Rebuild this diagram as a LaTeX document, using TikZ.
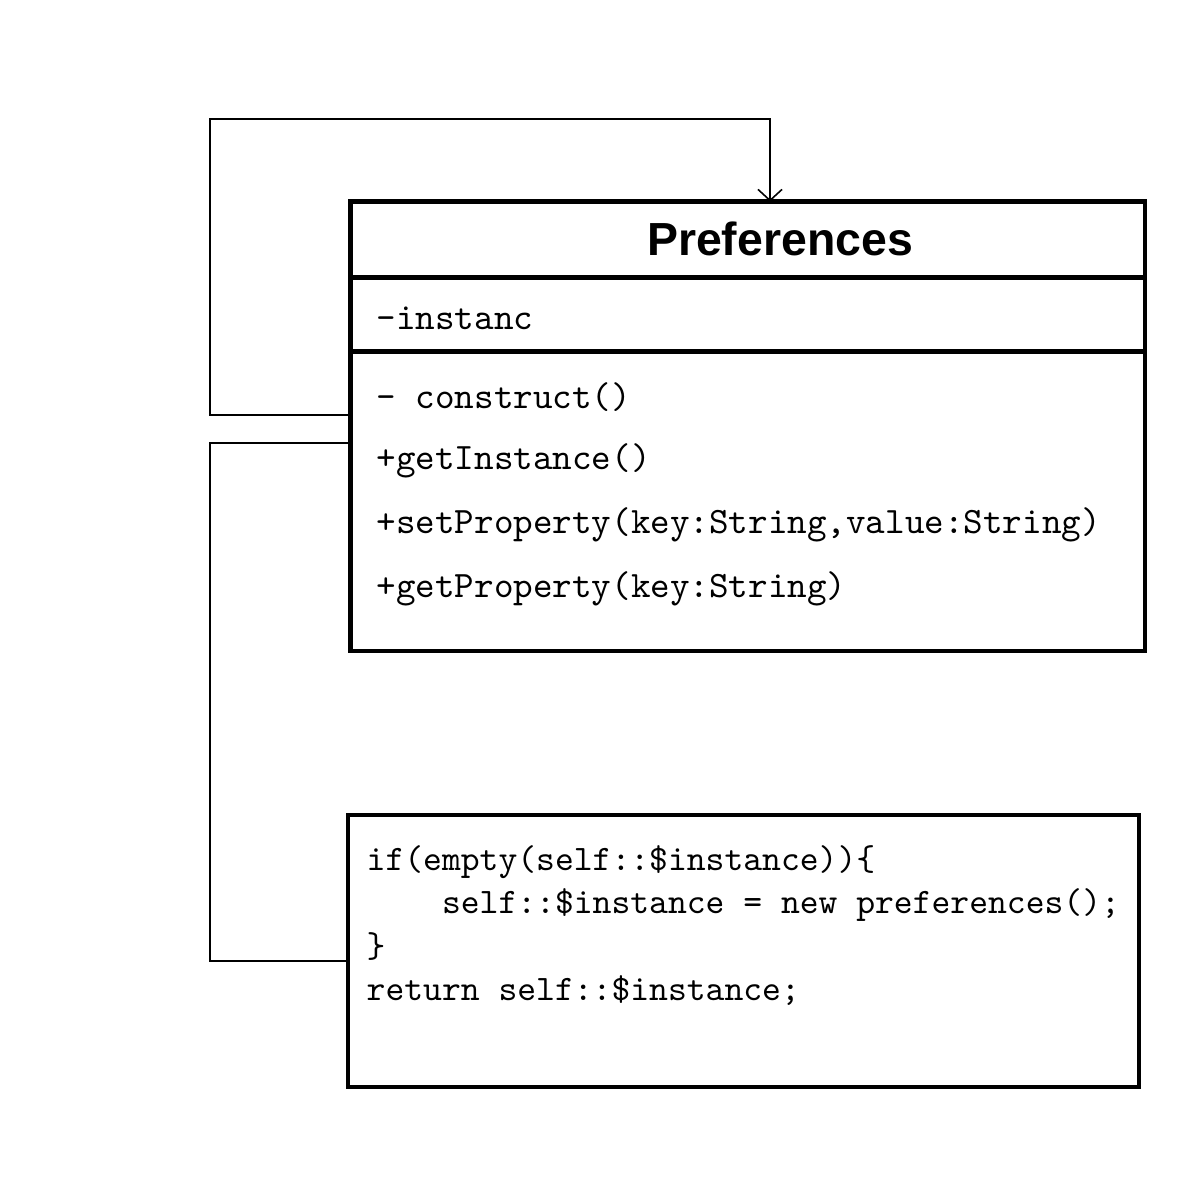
\documentclass[tikz,border=0pt]{standalone}
\usepackage{fontspec}
\setsansfont{Liberation Sans}
\usetikzlibrary{arrows.meta}
\begin{document}
\begin{tikzpicture}[x=0.01cm,y=-0.01cm,
  box/.style={draw,line width=1.15pt,rectangle,inner sep=0,outer sep=0},
  conn/.style={draw,line width=0.45pt},
  txt/.style={anchor=west,inner sep=0,font=\ttfamily\fontsize{10.6}{12}\selectfont},
  ttl/.style={inner sep=0,font=\sffamily\bfseries\fontsize{13.2}{15}\selectfont}]
\useasboundingbox (0,0) rectangle (1200,1200);
% class box
\node[box,minimum width=7.94cm,minimum height=4.49cm,anchor=north west] (cls) at (350.5,201.5) {};
\coordinate (d1) at (0,277.5);
\coordinate (d2) at (0,351.5);
\draw[line width=1.15pt] (cls.west |- d1) -- (cls.east |- d1);
\draw[line width=1.15pt] (cls.west |- d2) -- (cls.east |- d2);
\node[ttl] (title) at (780,239) {Preferences};
\node[txt] (attr) at (376,318) {-instanc};
\node[txt] (m1) at (376,397) {- construct()};
\node[txt] (m2) at (376,461) {+getInstance()};
\node[txt] (m3) at (376,525) {+setProperty(key:String,value:String)};
\node[txt] (m4) at (376,589) {+getProperty(key:String)};
% code box
\node[box,minimum width=7.91cm,minimum height=2.72cm,anchor=north west] (code) at (348,815) {};
\node[txt,anchor=north west,align=left,font=\ttfamily\fontsize{10.2}{12.3}\selectfont] (codetxt) at (366,845)
 {if(empty(self::\$instance))\{\\
 \phantom{xxxx}self::\$instance = new preferences();\\
 \}\\
 return self::\$instance;};
% connectors
\coordinate (y1) at (0,415);
\coordinate (x1) at (210,0);
\coordinate (yt) at (0,119);
\coordinate (xa) at (770,0);
\draw[conn,-{Straight Barb[length=1.1mm,width=2.4mm]}] (cls.west |- y1) -- (x1 |- y1) -- (x1 |- yt) -- (xa |- yt) -- (xa |- cls.north);
\coordinate (y2) at (0,443);
\coordinate (y3) at (0,961);
\draw[conn] (cls.west |- y2) -- (x1 |- y2) -- (x1 |- y3) -- (code.west |- y3);
\end{tikzpicture}
\end{document}
